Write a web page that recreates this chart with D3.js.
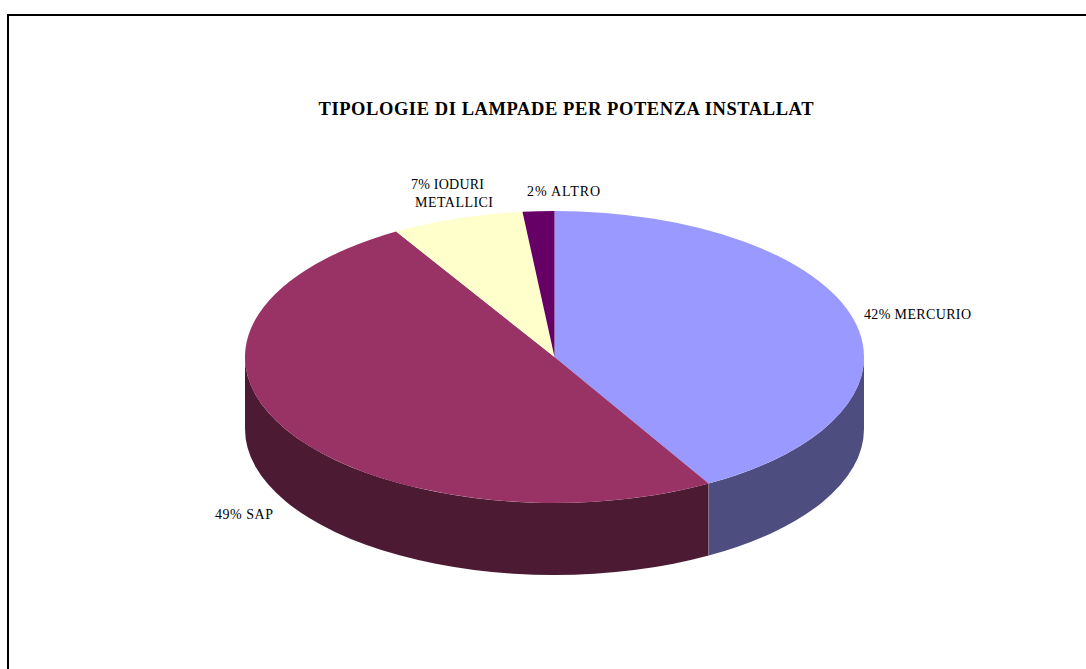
<!DOCTYPE html>
<html><head><meta charset="utf-8">
<script src="https://cdn.jsdelivr.net/npm/d3@7/dist/d3.min.js"></script>
<style>html,body{margin:0;padding:0;background:#fff}svg{display:block}text{font-family:"Liberation Serif",serif;fill:#000}</style>
</head><body><svg id="c" width="1086" height="669"></svg>
<script>
const categories = ["MERCURIO","SAP","IODURI METALLICI","ALTRO"];
const values = [41.7, 49.75, 6.9, 1.65];
const topColors = ["#9999FF","#993366","#FFFFCC","#660066"];
const sideColors = ["#4D4D80","#4D1A33","#80805F","#330033"];
const labelLines = [["42% MERCURIO"],["49% SAP"],["7% IODURI","METALLICI"],["2% ALTRO"]];
const titleText = "TIPOLOGIE DI LAMPADE PER POTENZA INSTALLAT";

const cx=554.5, cy=357, rx=309.5, ry=146, depth=72;
const svg=d3.select("#c");
svg.append("path").attr("d","M8,669V15H1086").attr("fill","none").attr("stroke","#000").attr("stroke-width",2);

const arcs=d3.pie().sort(null)(values);
const px=a=>cx+rx*Math.sin(a), py=a=>cy-ry*Math.cos(a);

const side=svg.append("g");
arcs.forEach((d,i)=>{
  const a0=Math.max(d.startAngle,Math.PI/2), a1=Math.min(d.endAngle,3*Math.PI/2);
  if(a1<=a0) return;
  const dp=`M${px(a0)},${py(a0)}A${rx},${ry} 0 0 1 ${px(a1)},${py(a1)}L${px(a1)},${py(a1)+depth}A${rx},${ry} 0 0 0 ${px(a0)},${py(a0)+depth}Z`;
  side.append("path").attr("d",dp).attr("fill",sideColors[i]);
});
const seam=arcs[0].endAngle;
side.append("line").attr("x1",px(seam)).attr("x2",px(seam)).attr("y1",py(seam)).attr("y2",py(seam)+depth).attr("stroke","#8d7f92").attr("stroke-width",.8);

// the top face: the rim of each slice is traced in two arcs, so no arc comes close to a half turn
const arc=d3.arc().innerRadius(0).outerRadius(rx);
const topG=svg.append("g").attr("transform",`translate(${cx},${cy}) scale(1,${ry/rx})`);
arcs.forEach((d,i)=>{
  const sx=a=>rx*Math.sin(a), sy=a=>-rx*Math.cos(a);
  const mid=(d.startAngle+d.endAngle)/2;
  const p=d3.path();
  p.moveTo(0,0);
  p.lineTo(sx(d.startAngle),sy(d.startAngle));
  p.arc(0,0,rx,d.startAngle-Math.PI/2,mid-Math.PI/2);
  p.arc(0,0,rx,mid-Math.PI/2,d.endAngle-Math.PI/2);
  p.closePath();
  topG.append("path").attr("d",p.toString()).attr("fill",topColors[i]);
});

svg.append("text").attr("x",566).attr("y",115).attr("text-anchor","middle")
  .attr("font-size",18.5).attr("font-weight","bold").attr("textLength",495).attr("lengthAdjust","spacing").text(titleText);

const labelPos=[[864,319],[215,519],[411,189],[527,196]];
const lineDy=[[0],[0],[0,18],[0]];
const lineDx=[[0],[0],[0,4],[0]];
const lineW=[[107],[58],[73,78],[73]];
labelLines.forEach((ls,i)=>ls.forEach((s,j)=>{
  svg.append("text").attr("x",labelPos[i][0]+lineDx[i][j]).attr("y",labelPos[i][1]+lineDy[i][j]).attr("font-size",14).attr("textLength",lineW[i][j]).attr("lengthAdjust","spacing").text(s);
}));
</script></body></html>
